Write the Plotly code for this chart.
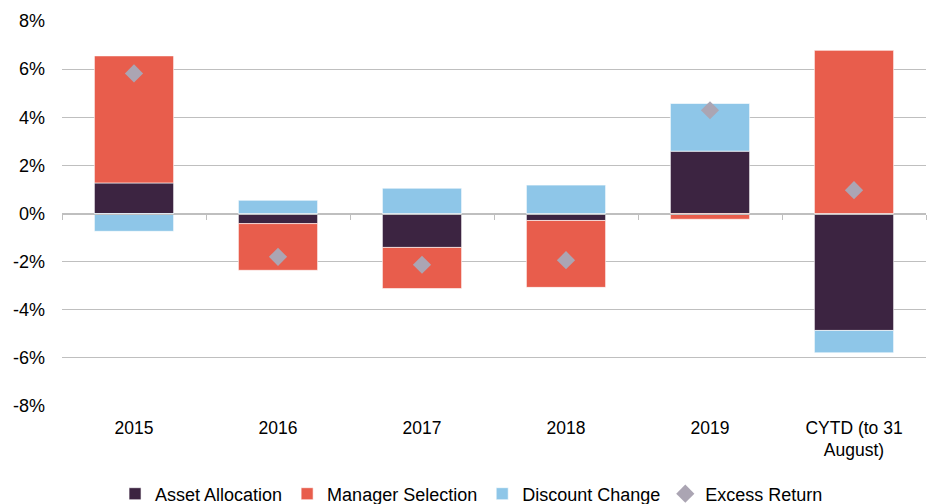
import plotly.graph_objects as go

categories = ["2015", "2016", "2017", "2018", "2019", "CYTD (to 31<br>August)"]
asset_allocation = [1.27, -0.42, -1.41, -0.29, 2.59, -4.86]
manager_selection = [5.28, -1.94, -1.71, -2.78, -0.24, 6.78]
discount_change = [-0.74, 0.55, 1.05, 1.18, 1.98, -0.93]
excess_return = [5.82, -1.80, -2.13, -1.94, 4.29, 0.97]
y_ticks = [-8, -6, -4, -2, 0, 2, 4, 6, 8]
y_tick_labels = ["-8%", "-6%", "-4%", "-2%", "0%", "2%", "4%", "6%", "8%"]

fig = go.Figure()
line = dict(color="rgba(255,255,255,0.6)", width=1)
fig.add_trace(go.Bar(name="Asset Allocation", x=categories, y=asset_allocation,
                     marker=dict(color="#3C2441", line=line)))
fig.add_trace(go.Bar(name="Manager Selection", x=categories, y=manager_selection,
                     marker=dict(color="#E85D4C", line=line)))
fig.add_trace(go.Bar(name="Discount Change", x=categories, y=discount_change,
                     marker=dict(color="#8EC6E8", line=line)))
fig.add_trace(go.Scatter(name="Excess Return", x=categories, y=excess_return, mode="markers",
                         marker=dict(symbol="diamond", size=14, color="#ABA5B3")))
# invisible trace to carry the zero-line axis with boundary ticks
fig.add_trace(go.Scatter(x=categories, y=[0] * len(categories), xaxis="x2", mode="markers",
                         marker=dict(opacity=0), showlegend=False, hoverinfo="skip"))

font = dict(family="Liberation Sans, Arial, sans-serif", size=18, color="#000000")
fig.update_layout(
    barmode="relative",
    bargap=0.45,
    width=936, height=504,
    margin=dict(l=62, r=10, t=21, b=98, autoexpand=False),
    plot_bgcolor="white", paper_bgcolor="white",
    font=font,
    showlegend=True,
    legend=dict(orientation="h", x=0.474, xanchor="center", y=-0.2286, yanchor="middle",
                font=dict(size=18), traceorder="normal", itemwidth=30),
    xaxis=dict(type="category", categoryarray=categories, showline=False, ticks="",
               showgrid=False, zeroline=False, range=[-0.5, 5.5], tickfont=dict(size=17.5),
               ticklabelstandoff=9),
    xaxis2=dict(type="category", categoryarray=categories, overlaying="x", anchor="free",
                position=0.5, range=[-0.5, 5.5], showline=True, linecolor="#BFBFBF",
                linewidth=1, ticks="outside", tickson="boundaries", ticklen=5,
                tickcolor="#BFBFBF", showticklabels=False, showgrid=False, zeroline=False),
    yaxis=dict(range=[-8, 8], tickvals=y_ticks, ticktext=y_tick_labels, showgrid=True,
               gridcolor="#BFBFBF", gridwidth=1, zeroline=False, showline=False,
               ticks="", tickfont=dict(size=18), ticklabelstandoff=16),
)
fig.write_html("out.html", config={"displayModeBar": False},
               post_script="document.body.style.margin='0';")
